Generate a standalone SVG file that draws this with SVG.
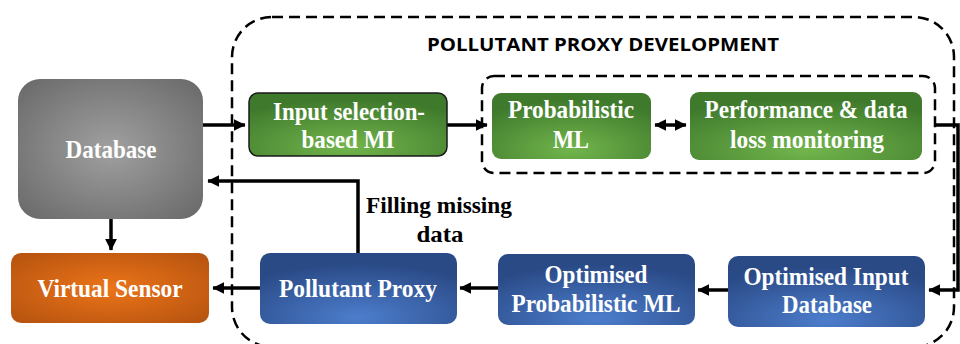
<svg xmlns="http://www.w3.org/2000/svg" width="960" height="344" viewBox="0 0 960 344">
<style>
.lbl{font-family:"Liberation Serif","Times New Roman",serif;font-weight:bold;font-size:25px;fill:#fff;text-anchor:middle}
.dark{fill:#000;font-size:24px}
.title{font-family:"Open Sans","Liberation Sans",sans-serif;font-weight:bold;font-size:18px;fill:#000;text-anchor:middle}
.conn{stroke:#000;stroke-width:3.5;fill:none}
.dash{stroke:#000;stroke-width:2.5;fill:none;stroke-dasharray:11 6}
</style>
<defs>
<radialGradient id="gGray" cx="0.5" cy="0.5" r="0.65">
<stop offset="0" stop-color="#a0a0a0"/><stop offset="1" stop-color="#6c6c6c"/>
</radialGradient>
<radialGradient id="gOrange" cx="0.5" cy="0.5" r="0.7">
<stop offset="0" stop-color="#ec7419"/><stop offset="1" stop-color="#b4520f"/>
</radialGradient>
<radialGradient id="gGreen" cx="0.5" cy="0.85" r="0.75">
<stop offset="0" stop-color="#72b54c"/><stop offset="1" stop-color="#3f7a2c"/>
</radialGradient>
<radialGradient id="gBlue" cx="0.5" cy="0.9" r="0.75">
<stop offset="0" stop-color="#4c7dcc"/><stop offset="1" stop-color="#2a4a86"/>
</radialGradient>
<marker id="ah" markerWidth="4" markerHeight="4" refX="3.2" refY="2" orient="auto-start-reverse" markerUnits="strokeWidth">
<path d="M0,0.3 L3.4,2 L0,3.7 Z" fill="#000"/>
</marker>
</defs>
<rect width="960" height="344" fill="#fff"/>

<g id="outer-group">
<rect class="dash" x="232" y="17" width="722" height="330" rx="40"/>
<text class="title" x="603" y="51" textLength="352" lengthAdjust="spacingAndGlyphs">POLLUTANT PROXY DEVELOPMENT</text>
</g>
<g id="inner-group">
<rect class="dash" x="482" y="76" width="453" height="97" rx="12"/>
</g>

<g id="connectors">
<line class="conn" x1="203" y1="125" x2="245" y2="125" marker-end="url(#ah)"/>
<line class="conn" x1="447" y1="125" x2="487" y2="125" marker-end="url(#ah)"/>
<line class="conn" x1="655" y1="125" x2="686" y2="125" marker-start="url(#ah)" marker-end="url(#ah)"/>
<polyline class="conn" points="935,125 958,125 958,290 929,290" marker-end="url(#ah)"/>
<line class="conn" x1="728" y1="290" x2="698" y2="290" marker-end="url(#ah)"/>
<line class="conn" x1="498" y1="288" x2="460" y2="288" marker-end="url(#ah)"/>
<line class="conn" x1="260" y1="288" x2="213" y2="288" marker-end="url(#ah)"/>
<polyline class="conn" points="358,253 358,181 208,181" marker-end="url(#ah)"/>
<line class="conn" x1="111" y1="219" x2="111" y2="250" marker-end="url(#ah)"/>
<text class="lbl dark" x="439" y="213" textLength="146" lengthAdjust="spacingAndGlyphs">Filling missing</text>
<text class="lbl dark" x="440" y="242" textLength="47" lengthAdjust="spacingAndGlyphs">data</text>
</g>

<g id="database">
<rect x="18" y="79" width="185" height="140" rx="22" fill="url(#gGray)"/>
<text class="lbl" x="111" y="158" textLength="91" lengthAdjust="spacingAndGlyphs">Database</text>
</g>
<g id="virtual-sensor">
<rect x="11" y="253" width="198" height="70" rx="10" fill="url(#gOrange)"/>
<text class="lbl" x="110" y="297" textLength="145" lengthAdjust="spacingAndGlyphs">Virtual Sensor</text>
</g>
<g id="input-selection">
<rect x="249" y="93" width="198" height="63" rx="9" fill="url(#gGreen)" stroke="#1a1a1a" stroke-width="1.5"/>
<text class="lbl" x="349" y="120" textLength="152" lengthAdjust="spacingAndGlyphs">Input selection-</text>
<text class="lbl" x="348" y="148" textLength="93" lengthAdjust="spacingAndGlyphs">based MI</text>
</g>
<g id="probabilistic-ml">
<rect x="492" y="93" width="159" height="66" rx="9" fill="url(#gGreen)"/>
<text class="lbl" x="571" y="118" textLength="126" lengthAdjust="spacingAndGlyphs">Probabilistic</text>
<text class="lbl" x="571" y="148" textLength="36" lengthAdjust="spacingAndGlyphs">ML</text>
</g>
<g id="performance">
<rect x="690" y="92" width="232" height="68" rx="9" fill="url(#gGreen)"/>
<text class="lbl" x="806" y="118" textLength="203" lengthAdjust="spacingAndGlyphs">Performance &amp; data</text>
<text class="lbl" x="807" y="148" textLength="154" lengthAdjust="spacingAndGlyphs">loss monitoring</text>
</g>
<g id="pollutant-proxy">
<rect x="260" y="253" width="197" height="71" rx="10" fill="url(#gBlue)"/>
<text class="lbl" x="358" y="297" textLength="158" lengthAdjust="spacingAndGlyphs">Pollutant Proxy</text>
</g>
<g id="optimised-prob-ml">
<rect x="498" y="254" width="197" height="71" rx="10" fill="url(#gBlue)"/>
<text class="lbl" x="596" y="283" textLength="103" lengthAdjust="spacingAndGlyphs">Optimised</text>
<text class="lbl" x="596" y="312" textLength="169" lengthAdjust="spacingAndGlyphs">Probabilistic ML</text>
</g>
<g id="optimised-input-db">
<rect x="728" y="256" width="197" height="71" rx="10" fill="url(#gBlue)"/>
<text class="lbl" x="826" y="285" textLength="165" lengthAdjust="spacingAndGlyphs">Optimised Input</text>
<text class="lbl" x="827" y="313" textLength="90" lengthAdjust="spacingAndGlyphs">Database</text>
</g>
</svg>
